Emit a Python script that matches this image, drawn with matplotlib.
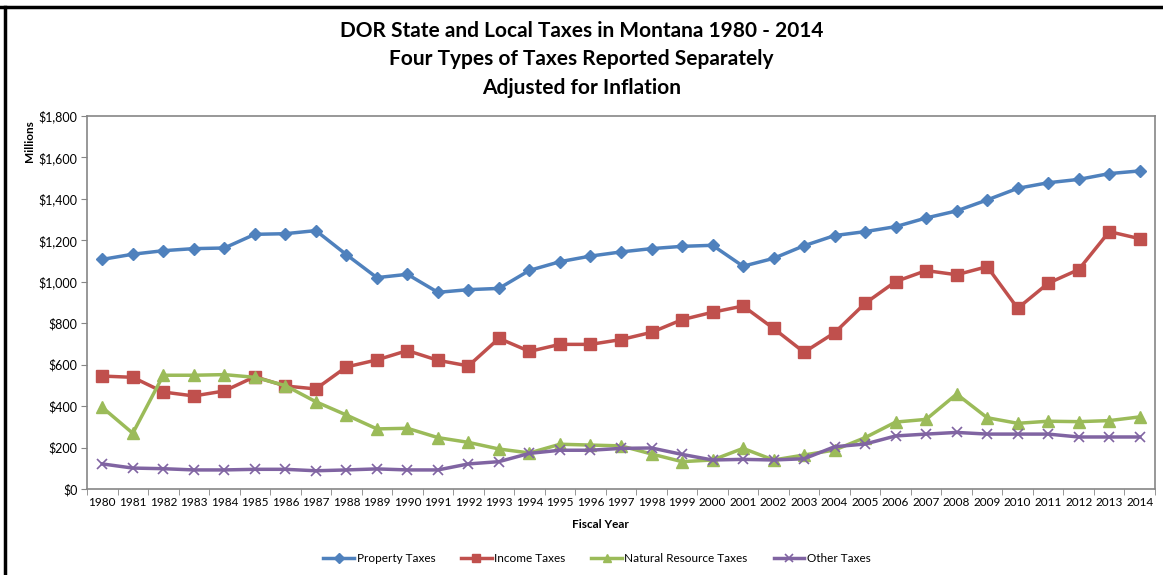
import matplotlib.pyplot as plt
from matplotlib.lines import Line2D
from matplotlib.ticker import FuncFormatter, FixedLocator

years = list(range(1980, 2015))

# values in millions of dollars
property_taxes = [1108, 1133, 1150, 1160, 1163, 1229, 1232, 1247, 1131, 1020,
                  1036, 949, 962, 968, 1055, 1097, 1124, 1144, 1160, 1171,
                  1176, 1075, 1113, 1174, 1223, 1242, 1266, 1308, 1342, 1395,
                  1451, 1478, 1494, 1522, 1535]
income_taxes = [545, 539, 468, 449, 473, 542, 497, 483, 589, 623,
                668, 621, 594, 727, 664, 698, 698, 721, 756, 817,
                853, 883, 775, 660, 754, 896, 1001, 1054, 1034, 1073,
                872, 993, 1059, 1242, 1208]
natural_resource_taxes = [394, 269, 549, 549, 552, 539, 499, 421, 357, 290,
                          293, 248, 225, 193, 174, 216, 212, 208, 169, 132,
                          140, 196, 140, 164, 188, 248, 323, 336, 458, 344,
                          317, 327, 325, 330, 348]
other_taxes = [121, 101, 98, 92, 92, 95, 95, 88, 92, 97,
               92, 92, 121, 132, 172, 187, 187, 196, 198, 167,
               140, 143, 140, 146, 204, 217, 256, 265, 273, 265,
               265, 265, 251, 251, 251]

series = [
    ("Property Taxes", property_taxes, "#4F81BD", "D", 6),
    ("Income Taxes", income_taxes, "#C0504D", "s", 8),
    ("Natural Resource Taxes", natural_resource_taxes, "#9BBB59", "^", 8),
    ("Other Taxes", other_taxes, "#8064A2", "x", 7),
]

plt.rcParams["font.family"] = ["Lato", "DejaVu Sans"]

W, H = 1163, 575
fig = plt.figure(figsize=(W / 100, H / 100), dpi=100)
ax = fig.add_axes([87 / W, 1 - 489 / H, (1155 - 87) / W, (489 - 116) / H])

x = list(range(len(years)))
for name, vals, color, marker, ms in series:
    if marker == "x":
        ax.plot(x, vals, color=color, lw=2.5, marker=marker, ms=ms,
                mew=1.2, label=name, zorder=3)
    else:
        ax.plot(x, vals, color=color, lw=2.5, marker=marker, ms=ms,
                mec=color, label=name, zorder=3)

ax.set_xlim(-0.5, len(years) - 0.5)
ax.set_ylim(0, 1800)
ax.set_yticks(range(0, 1801, 200))
ax.yaxis.set_major_formatter(FuncFormatter(lambda v, p: "${:,.0f}".format(v)))
ax.set_xticks(x)
ax.set_xticklabels([str(y) for y in years])
ax.xaxis.set_minor_locator(FixedLocator([i - 0.5 for i in range(len(years) + 1)]))
ax.tick_params(axis="x", which="major", length=0, labelsize=8.5, pad=6)
ax.tick_params(axis="x", which="minor", length=4, color="#868686", direction="out")
ax.tick_params(axis="y", length=4, color="#868686", labelsize=9, pad=3)

for s in ax.spines.values():
    s.set_color("#868686")
    s.set_linewidth(1.2)

fig.text(0.5, 1 - 31 / H, "DOR State and Local Taxes in Montana 1980 - 2014",
         ha="center", va="center", fontsize=15, fontweight="bold")
fig.text(0.5, 1 - 59 / H, "Four Types of Taxes Reported Separately",
         ha="center", va="center", fontsize=15, fontweight="bold")
fig.text(0.5, 1 - 88 / H, "Adjusted for Inflation",
         ha="center", va="center", fontsize=15, fontweight="bold")
fig.text(30 / W, 1 - 141 / H, "Millions", rotation=90, ha="center", va="center",
         fontsize=8.5, fontweight="bold")
fig.text(600 / W, 1 - 524 / H, "Fiscal Year", ha="center", va="center",
         fontsize=8.5, fontweight="bold")

handles = [Line2D([], [], color=c, lw=2.5, marker=m, ms=ms * 0.8,
                  mew=1.2 if m == "x" else 1, mec=c) for _, _, c, m, ms in series]
fig.legend(handles, [s[0] for s in series], loc="center",
           bbox_to_anchor=(597 / W, 1 - 559 / H), ncol=4, frameon=False,
           fontsize=8.5, handlelength=2.6, handletextpad=0.2, columnspacing=2.2)

# frame edges visible on the top and left of the reference image
fig.add_artist(Line2D([0, 1], [1 - 7 / H, 1 - 7 / H], color="black", lw=2.5,
                      transform=fig.transFigure))
fig.add_artist(Line2D([4.5 / W, 4.5 / W], [0, 1 - 7 / H], color="black", lw=2.5,
                      transform=fig.transFigure))

fig.savefig("out.png", dpi=100)
